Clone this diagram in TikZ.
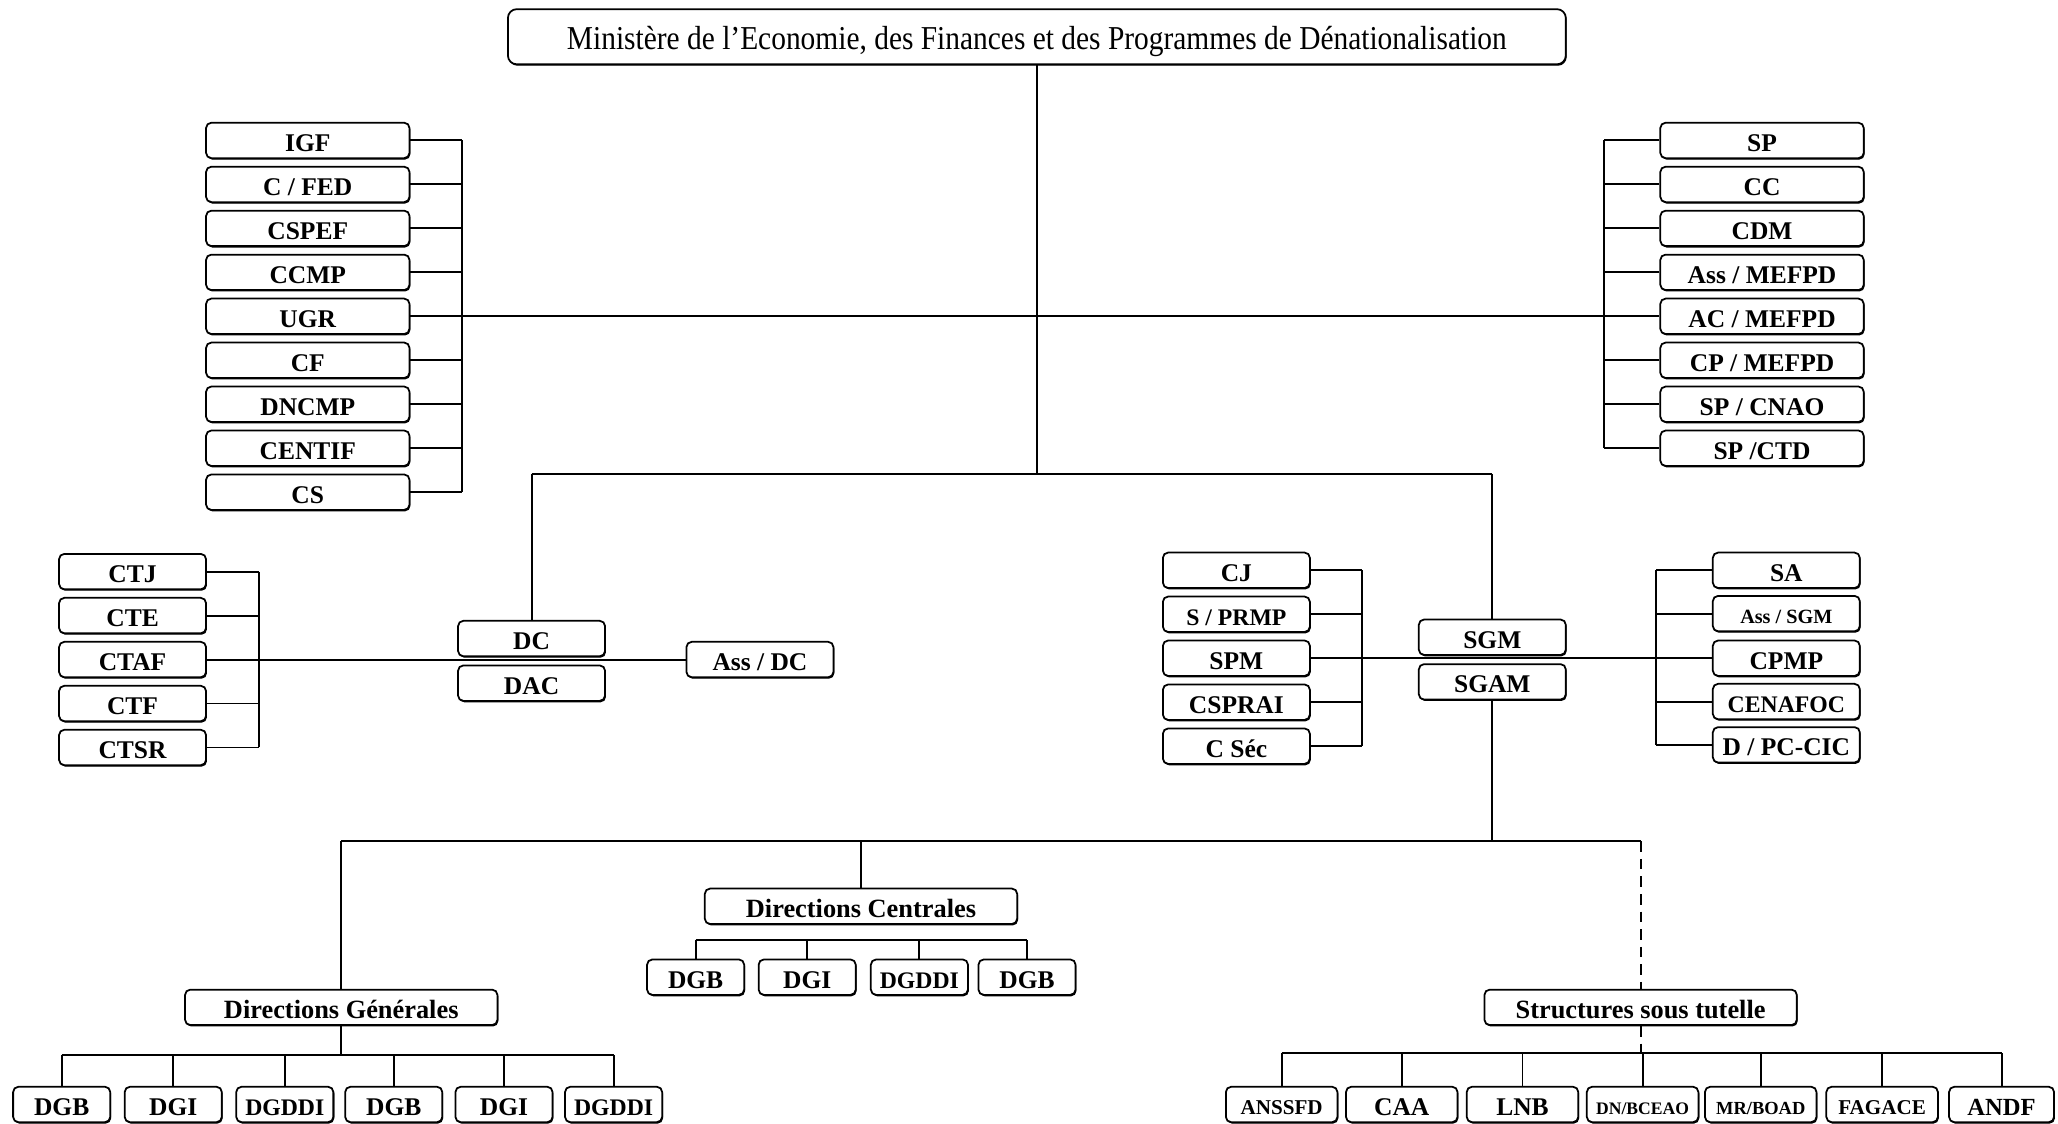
\documentclass[tikz,border=0pt]{standalone}
\usepackage{fontspec}
\setmainfont{Liberation Serif}
\usetikzlibrary{shadows}
\newlength\pxu \setlength\pxu{0.02625cm}
\tikzset{
  box/.style={draw, line width=1pt, rounded corners=3pt, fill=white, inner sep=0pt,
    minimum height=27*\pxu, text height=12.4pt, text depth=0pt,
    font=\fontsize{14.5}{16}\selectfont\bfseries,
    drop shadow={shadow xshift=0.5pt, shadow yshift=-0.8pt, fill=black, opacity=1}},
  lbox/.style={box, minimum width=155*\pxu},
  sbox/.style={box, minimum width=112*\pxu},
  wbox/.style={box, minimum width=238*\pxu, font=\fontsize{15}{17}\selectfont\bfseries},
  dbox/.style={box, minimum width=74*\pxu},
  tbox/.style={box, minimum width=85*\pxu},
  conn/.style={line width=1.1pt},
  sm/.style={font=\fontsize{#1}{#1}\selectfont\bfseries}
}
\begin{document}
\begin{tikzpicture}[x=\pxu, y=-\pxu]
\useasboundingbox (0,0) rectangle (1568,856);
\fill[white] (0,0) rectangle (1568,856);
% title
\node[box, minimum width=806*\pxu, minimum height=42*\pxu, rounded corners=5pt,
  text height=14.5pt, font=\fontsize{19}{21}\selectfont] (min) at (790,28)
  {\resizebox{716\pxu}{\height}{Ministère de l’Economie, des Finances et des Programmes de Dénationalisation}};
% left column
\node[lbox] (igf) at (234.5,107) {IGF};
\node[lbox] (cfed) at (234.5,140.5) {C / FED};
\node[lbox] (cspef) at (234.5,174) {CSPEF};
\node[lbox] (ccmp) at (234.5,207.5) {CCMP};
\node[lbox] (ugr) at (234.5,241) {UGR};
\node[lbox] (cf) at (234.5,274.5) {CF};
\node[lbox] (dncmp) at (234.5,308) {DNCMP};
\node[lbox] (centif) at (234.5,341.5) {CENTIF};
\node[lbox] (cs) at (234.5,375) {CS};
\coordinate (lbt) at (352,107);
\coordinate (lbb) at (352,375);
\draw[conn] (lbt) -- (lbb);
\foreach \n in {igf,cfed,cspef,ccmp,cf,dncmp,centif,cs}
  \draw[conn] (\n.east) -- (\n.east -| lbt);
% right column
\node[lbox] (sp) at (1342.5,107) {SP};
\node[lbox] (cc) at (1342.5,140.5) {CC};
\node[lbox] (cdm) at (1342.5,174) {CDM};
\node[lbox] (assm) at (1342.5,207.5) {Ass / MEFPD};
\node[lbox] (acm) at (1342.5,241) {AC / MEFPD};
\node[lbox] (cpm) at (1342.5,274.5) {CP / MEFPD};
\node[lbox] (spcnao) at (1342.5,308) {SP / CNAO};
\node[lbox] (spctd) at (1342.5,341.5) {SP /CTD};
\coordinate (rbt) at (1222,107);
\coordinate (rbb) at (1222,341.5);
\draw[conn] (rbt) -- (rbb);
\foreach \n in {sp,cc,cdm,assm,cpm,spcnao,spctd}
  \draw[conn] (\n.west) -- (\n.west -| rbt);
\draw[conn] (ugr.east) -- (acm.west);
% main trunk
\coordinate (jL) at (405,361);
\coordinate (jR) at (1137,361);
\draw[conn] (min.south) -- (min.south |- jL);
\draw[conn] (jL) -- (jR);
% DC group
\node[sbox] (dc) at (405,486.5) {DC};
\node[sbox] (dac) at (405,520.5) {DAC};
\node[sbox] (assdc) at (579,502.5) {Ass / DC};
\draw[conn] (jL) -- (dc.north);
\node[sbox] (ctj) at (101,435.5) {CTJ};
\node[sbox] (cte) at (101,469) {CTE};
\node[sbox] (ctaf) at (101,502.5) {CTAF};
\node[sbox] (ctf) at (101,536) {CTF};
\node[sbox] (ctsr) at (101,569.5) {CTSR};
\coordinate (lb2t) at (197,435.5);
\coordinate (lb2b) at (197,569.5);
\draw[conn] (lb2t) -- (lb2b);
\foreach \n in {ctj,cte,ctf,ctsr}
  \draw[conn] (\n.east) -- (\n.east -| lb2t);
\draw[conn] (ctaf.east) -- (assdc.west);
% SGM group
\node[sbox] (sgm) at (1137,485.5) {SGM};
\node[sbox] (sgam) at (1137,519.5) {SGAM};
\draw[conn] (jR) -- (sgm.north);
\node[sbox] (cj) at (942,434.5) {CJ};
\node[sbox, sm=13.5] (sprmp) at (942,468) {S / PRMP};
\node[sbox] (spm) at (942,501.5) {SPM};
\node[sbox] (csprai) at (942,535) {CSPRAI};
\node[sbox] (csec) at (942,568.5) {C Séc};
\coordinate (cbt) at (1038,434.5);
\coordinate (cbb) at (1038,568.5);
\draw[conn] (cbt) -- (cbb);
\foreach \n in {cj,sprmp,csprai,csec}
  \draw[conn] (\n.east) -- (\n.east -| cbt);
\node[sbox] (sa) at (1361,434.5) {SA};
\node[sbox, sm=11.5, text height=11pt] (asssgm) at (1361,467.5) {Ass / SGM};
\node[sbox] (cpmp) at (1361,501.5) {CPMP};
\node[sbox, sm=13.5] (cenafoc) at (1361,534.5) {CENAFOC};
\node[sbox] (dpc) at (1361,567.5) {D / PC-CIC};
\coordinate (sbt) at (1262,434.5);
\coordinate (sbb) at (1262,567.5);
\draw[conn] (sbt) -- (sbb);
\foreach \n in {sa,asssgm,cenafoc,dpc}
  \draw[conn] (\n.west) -- (\n.west -| sbt);
\draw[conn] (spm.east) -- (cpmp.west);
% lower level
\coordinate (b1) at (260,641);
\coordinate (b2) at (1250,641);
\coordinate (b3) at (656,641);
\draw[conn] (sgam.south) -- (sgam.south |- b1);
\draw[conn] (b1) -- (b2);
\node[wbox] (dg) at (260,767.5) {Directions Générales};
\node[wbox] (dcen) at (656,690.5) {Directions Centrales};
\node[wbox] (sst) at (1250,767.5) {Structures sous tutelle};
\draw[conn] (b1) -- (dg.north);
\draw[conn] (b3) -- (dcen.north);
\draw[conn, dashed, dash pattern=on 6pt off 4pt] (b2) -- (sst.north);
% Directions Centrales children
\node[dbox] (c1) at (530,744.5) {DGB};
\node[dbox] (c2) at (615,744.5) {DGI};
\node[dbox, sm=13.5, text height=13pt] (c3) at (700.5,744.5) {DGDDI};
\node[dbox] (c4) at (782.5,744.5) {DGB};
\coordinate (cb) at (0,716);
\draw[conn] (c1.north |- cb) -- (c4.north |- cb);
\foreach \n in {c1,c2,c3,c4}
  \draw[conn] (\n.north) -- (\n.north |- cb);
% Directions Generales children
\node[dbox] (g1) at (47,841.5) {DGB};
\node[dbox] (g2) at (132,841.5) {DGI};
\node[dbox, sm=13.5, text height=13pt] (g3) at (217,841.5) {DGDDI};
\node[dbox] (g4) at (300,841.5) {DGB};
\node[dbox] (g5) at (384,841.5) {DGI};
\node[dbox, sm=13.5, text height=13pt] (g6) at (467.5,841.5) {DGDDI};
\coordinate (gb) at (0,804);
\draw[conn] (dg.south) -- (dg.south |- gb);
\draw[conn] (g1.north |- gb) -- (g6.north |- gb);
\foreach \n in {g1,g2,g3,g4,g5,g6}
  \draw[conn] (\n.north) -- (\n.north |- gb);
% Structures sous tutelle children
\node[tbox, sm=12, text height=11pt] (s1) at (976.5,841.5) {ANSSFD};
\node[tbox] (s2) at (1068,841.5) {CAA};
\node[tbox] (s3) at (1160,841.5) {LNB};
\node[tbox, sm=10, text height=11pt] (s4) at (1251.5,841.5) {DN/BCEAO};
\node[tbox, sm=10.5, text height=11pt] (s5) at (1341.5,841.5) {MR/BOAD};
\node[tbox, sm=12, text height=11pt] (s6) at (1434,841.5) {FAGACE};
\node[box, minimum width=80*\pxu, sm=14] (s7) at (1525,841.5) {ANDF};
\coordinate (tb) at (0,802);
\draw[conn, dashed, dash pattern=on 6pt off 4pt] (sst.south) -- (sst.south |- tb);
\draw[conn] (s1.north |- tb) -- (s7.north |- tb);
\foreach \n in {s1,s2,s3,s4,s5,s6,s7}
  \draw[conn] (\n.north) -- (\n.north |- tb);
\end{tikzpicture}
\end{document}
